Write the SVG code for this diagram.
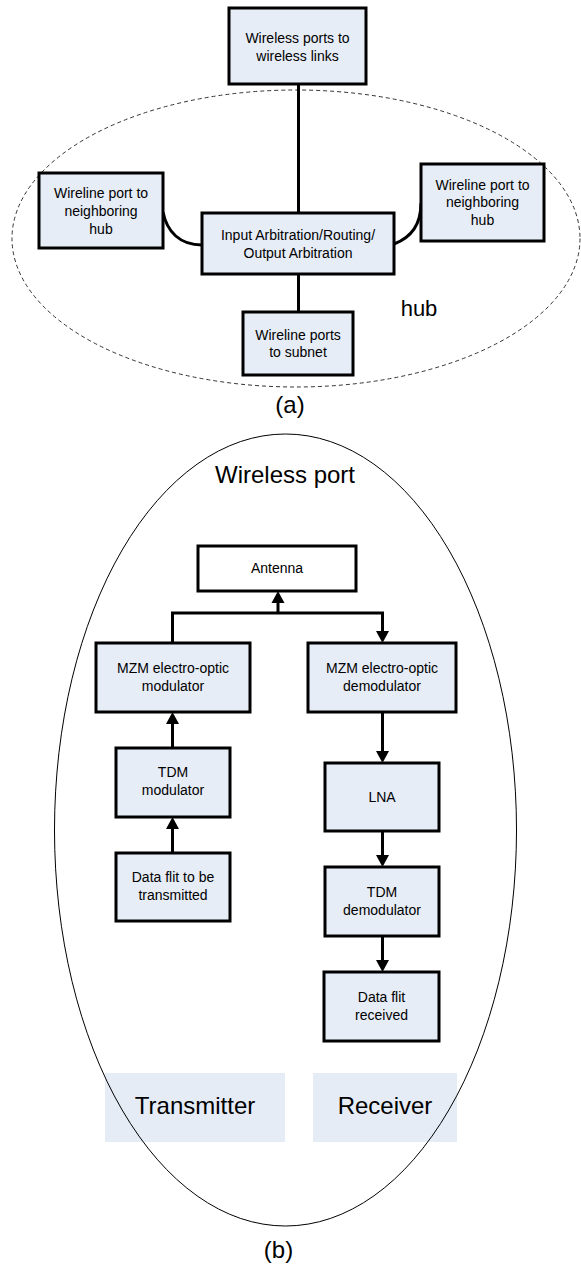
<svg xmlns="http://www.w3.org/2000/svg" width="581" height="1266" viewBox="0 0 581 1266">
<style>
.box{fill:#E7EDF7;stroke:#000;stroke-width:3}
.wbox{fill:#fff;stroke:#000;stroke-width:3}
.t{font-family:"Liberation Sans",Arial,sans-serif;font-size:14px;fill:#000;text-anchor:middle}
.big{font-family:"Liberation Sans",Arial,sans-serif;font-size:24px;fill:#000;text-anchor:middle}
.ln{fill:none;stroke:#000;stroke-width:3}
.lbl{fill:#E6ECF6}
</style>
<defs>
<marker id="ah" markerWidth="13" markerHeight="12" refX="12" refY="6" orient="auto" markerUnits="userSpaceOnUse">
<path d="M0,0 L12,6 L0,12 Z" fill="#000"/>
</marker>
</defs>
<rect width="581" height="1266" fill="#fff"/>
<!-- Part (a) -->
<ellipse id="hub" cx="296" cy="238.5" rx="284" ry="148.5" fill="none" stroke="#333" stroke-width="1" stroke-dasharray="4,3"/>
<g id="connectors-a">
<line class="ln" x1="298.5" y1="84" x2="298.5" y2="213"/>
<line class="ln" x1="298.5" y1="274" x2="298.5" y2="312"/>
<path class="ln" d="M163,212 C167,232 180,245 202,245"/>
<path class="ln" d="M394,244 C410,238 421,225 421,203"/>
</g>
<g id="wireless-ports">
<rect class="box" x="229" y="8" width="137" height="76"/>
<text class="t" x="297.5" y="43">Wireless ports to</text>
<text class="t" x="297.5" y="61">wireless links</text>
</g>
<g id="wireline-left">
<rect class="box" x="39" y="173" width="124" height="75"/>
<text class="t" x="101" y="198">Wireline port to</text>
<text class="t" x="101" y="216">neighboring</text>
<text class="t" x="101" y="234">hub</text>
</g>
<g id="arbitration">
<rect class="box" x="202" y="213" width="192" height="61"/>
<text class="t" x="298" y="240">Input Arbitration/Routing/</text>
<text class="t" x="298" y="258">Output Arbitration</text>
</g>
<g id="wireline-right">
<rect class="box" x="421" y="164" width="123" height="77"/>
<text class="t" x="482.5" y="190">Wireline port to</text>
<text class="t" x="482.5" y="207">neighboring</text>
<text class="t" x="482.5" y="225">hub</text>
</g>
<g id="wireline-subnet">
<rect class="box" x="243" y="312" width="110" height="63"/>
<text class="t" x="298" y="340">Wireline ports</text>
<text class="t" x="298" y="357">to subnet</text>
</g>
<text class="big" x="419" y="316" style="font-size:22px">hub</text>
<text class="big" x="290" y="413">(a)</text>
<!-- Part (b) -->
<rect class="lbl" x="105" y="1073" width="180" height="69"/>
<rect class="lbl" x="313" y="1073" width="144" height="69"/>
<ellipse id="wireless-port" cx="285.5" cy="830" rx="231" ry="396" fill="none" stroke="#000" stroke-width="1"/>
<text class="big" x="285" y="483">Wireless port</text>
<g id="connectors-b">
<polyline class="ln" points="172.5,643 172.5,613 382.5,613 382.5,631" />
<path d="M376,631 L389,631 L382.5,643 Z" fill="#000"/>
<line class="ln" x1="278" y1="613" x2="278" y2="603"/>
<path d="M271.5,603 L284.5,603 L278,591 Z" fill="#000"/>
<line class="ln" x1="172.5" y1="748" x2="172.5" y2="724"/>
<path d="M166,724 L179,724 L172.5,712 Z" fill="#000"/>
<line class="ln" x1="172.5" y1="853" x2="172.5" y2="829"/>
<path d="M166,829 L179,829 L172.5,817 Z" fill="#000"/>
<line class="ln" x1="382.5" y1="712" x2="382.5" y2="751"/>
<path d="M376,751 L389,751 L382.5,763 Z" fill="#000"/>
<line class="ln" x1="382.5" y1="831" x2="382.5" y2="855"/>
<path d="M376,855 L389,855 L382.5,867 Z" fill="#000"/>
<line class="ln" x1="382.5" y1="936" x2="382.5" y2="960"/>
<path d="M376,960 L389,960 L382.5,972 Z" fill="#000"/>
</g>
<g id="antenna">
<rect class="wbox" x="198" y="546" width="158" height="45"/>
<text class="t" x="277" y="573">Antenna</text>
</g>
<g id="mzm-mod">
<rect class="box" x="96" y="643" width="154" height="69"/>
<text class="t" x="173" y="673">MZM electro-optic</text>
<text class="t" x="173" y="691">modulator</text>
</g>
<g id="mzm-demod">
<rect class="box" x="308" y="643" width="148" height="69"/>
<text class="t" x="382" y="673">MZM electro-optic</text>
<text class="t" x="382" y="691">demodulator</text>
</g>
<g id="tdm-mod">
<rect class="box" x="116" y="748" width="114" height="69"/>
<text class="t" x="173" y="777">TDM</text>
<text class="t" x="173" y="795">modulator</text>
</g>
<g id="data-tx">
<rect class="box" x="116" y="853" width="114" height="68"/>
<text class="t" x="173" y="882">Data flit to be</text>
<text class="t" x="173" y="900">transmitted</text>
</g>
<g id="lna">
<rect class="box" x="325" y="763" width="114" height="68"/>
<text class="t" x="382" y="802">LNA</text>
</g>
<g id="tdm-demod">
<rect class="box" x="325" y="867" width="114" height="69"/>
<text class="t" x="382" y="897">TDM</text>
<text class="t" x="382" y="915">demodulator</text>
</g>
<g id="data-rx">
<rect class="box" x="324" y="972" width="115" height="69"/>
<text class="t" x="381.5" y="1002">Data flit</text>
<text class="t" x="381.5" y="1020">received</text>
</g>
<text class="big" x="195" y="1114">Transmitter</text>
<text class="big" x="385" y="1114">Receiver</text>
<text class="big" x="278.5" y="1258">(b)</text>
</svg>
